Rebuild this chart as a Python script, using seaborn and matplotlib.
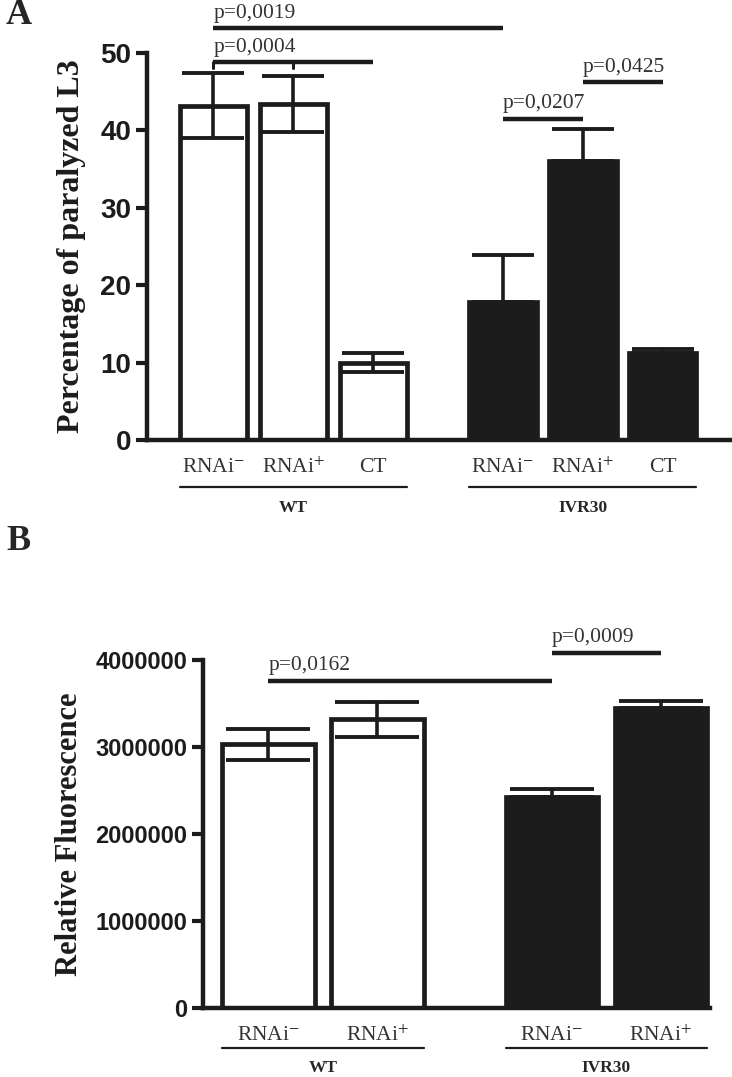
import numpy as np
import matplotlib.pyplot as plt
import seaborn as sns

# Panel A: paralysis assay
a_groups = ["WT", "WT", "WT", "IVR30", "IVR30", "IVR30"]
a_labels = ["RNAi$^{-}$", "RNAi$^{+}$", "CT", "RNAi$^{-}$", "RNAi$^{+}$", "CT"]
a_mean = [43.2, 43.4, 10.0, 17.8, 36.1, 11.2]
a_err = [4.2, 3.6, 1.2, 6.1, 4.1, 0.6]
a_pvals = ["p=0,0019", "p=0,0004", "p=0,0207", "p=0,0425"]
a_pairs = [(0, 3), (0, 2), (3, 4), (4, 5)]
a_plevel = [53.2, 48.8, 41.5, 46.2]
a_drops = [[], [0, 1], [], []]

# Panel B: fluorescence
b_groups = ["WT", "WT", "IVR30", "IVR30"]
b_labels = ["RNAi$^{-}$", "RNAi$^{+}$", "RNAi$^{-}$", "RNAi$^{+}$"]
b_mean = [3030000, 3320000, 2420000, 3450000]
b_err = [175000, 200000, 95000, 80000]
b_pvals = ["p=0,0162", "p=0,0009"]
b_pairs = [(0, 2), (2, 3)]
b_plevel = [3755000, 4085000]

SERIF = ["Liberation Serif", "DejaVu Serif"]
SANS = ["Liberation Sans", "DejaVu Sans"]
palette = {"WT": "white", "IVR30": "#1c1c1c"}

sns.set_style("ticks")
plt.rcParams["font.family"] = SANS
plt.rcParams["mathtext.fontset"] = "stix"


def positions(groups, gap):
    # one unit between bars, wider step between genotype groups
    pos, x = [], 0.0
    for k, grp in enumerate(groups):
        if k > 0:
            x += gap if grp != groups[k - 1] else 1.0
        pos.append(x)
    return np.array(pos)


def panel(ax, groups, labels, mean, err, pvals, pairs, plevel, drops,
          gap, width, ylim, yticks, ylabel, capsize, ptxt_off, drop_len,
          tick_pad, line_y, name_y, tick_fs, label_fs):
    pos = positions(groups, gap)
    sns.barplot(x=pos, y=mean, hue=groups, palette=palette, native_scale=True,
                width=width, edgecolor="#1c1c1c", linewidth=3.4, legend=False,
                ax=ax, zorder=2)
    lower = [e if g == "WT" else 0 for g, e in zip(groups, err)]
    ax.errorbar(pos, mean, yerr=[lower, err], fmt="none", ecolor="#1c1c1c",
                elinewidth=2.6, capsize=capsize, capthick=2.8, zorder=3)

    # significance bars
    for txt, (i, j), lvl, dr in zip(pvals, pairs, plevel, drops):
        ax.plot([pos[i], pos[j]], [lvl, lvl], color="#1c1c1c", lw=3.2,
                clip_on=False, solid_capstyle="butt")
        for d in dr:
            ax.plot([pos[d], pos[d]], [lvl, lvl - drop_len], color="#1c1c1c",
                    lw=2.2, clip_on=False)
        ax.text(pos[i], lvl + ptxt_off, txt, ha="left", va="bottom",
                family=SERIF, fontsize=15.5, color="#333333")

    ax.set_ylim(*ylim)
    ax.set_yticks(yticks)
    ax.set_yticklabels([str(t) for t in yticks], fontsize=tick_fs,
                       fontweight="bold", color="#1c1c1c")
    ax.set_xticks(pos)
    ax.set_xticklabels(labels, family=SERIF, fontsize=15.5, color="#333333")
    ax.tick_params(axis="x", length=0, pad=tick_pad)
    ax.tick_params(axis="y", length=8, width=3, color="#1c1c1c")
    ax.set_ylabel(ylabel, family=SERIF, fontsize=label_fs, fontweight="bold",
                  color="#1c1c1c")
    sns.despine(ax=ax)
    for s in ["left", "bottom"]:
        ax.spines[s].set_linewidth(3.2)
        ax.spines[s].set_color("#1c1c1c")

    # group underline and name
    tr = ax.get_xaxis_transform()
    for grp in dict.fromkeys(groups):
        idx = [k for k, g in enumerate(groups) if g == grp]
        x0 = pos[idx[0]] - width / 2
        x1 = pos[idx[-1]] + width / 2
        ax.plot([x0, x1], [line_y, line_y], color="#1c1c1c", lw=1.6,
                transform=tr, clip_on=False)
        ax.text((x0 + x1) / 2, name_y, grp, transform=tr, ha="center",
                va="center", family=SERIF, fontsize=12.5, fontweight="bold")
    return pos


fig = plt.figure(figsize=(7.32, 10.77), dpi=100)
W, H = 732, 1077

axA = fig.add_axes([147 / W, 1 - 440 / H, (730 - 147) / W, (440 - 53) / H])
posA = panel(axA, a_groups, a_labels, a_mean, a_err, a_pvals, a_pairs, a_plevel,
             a_drops, gap=1.625, width=0.84, ylim=(0, 50),
             yticks=[0, 10, 20, 30, 40, 50], ylabel="Percentage of paralyzed L3",
             capsize=22, ptxt_off=0.7, drop_len=0.8, tick_pad=13,
             line_y=-0.121, name_y=-0.176, tick_fs=20, label_fs=23)
axA.set_xlim(posA[0] - 0.83, posA[-1] + 0.84)
axA.yaxis.labelpad = 10

axB = fig.add_axes([203 / W, 1 - 1008 / H, (710 - 203) / W, (1008 - 660) / H])
posB = panel(axB, b_groups, b_labels, b_mean, b_err, b_pvals, b_pairs, b_plevel,
             [[], []], gap=1.6, width=0.85, ylim=(0, 4000000),
             yticks=[0, 1000000, 2000000, 3000000, 4000000],
             ylabel="Relative Fluorescence", capsize=30, ptxt_off=70000,
             drop_len=0, tick_pad=13, line_y=-0.115, name_y=-0.172,
             tick_fs=17, label_fs=22)
axB.set_xlim(posB[0] - 0.6, posB[-1] + 0.45)
axB.yaxis.labelpad = 8

fig.text(6 / W, 1 - 16 / H, "A", family=SERIF, fontsize=26, fontweight="bold",
         va="center", ha="left")
fig.text(6 / W, 1 - 542 / H, "B", family=SERIF, fontsize=26, fontweight="bold",
         va="center", ha="left")

fig.savefig("out.png", dpi=100)
